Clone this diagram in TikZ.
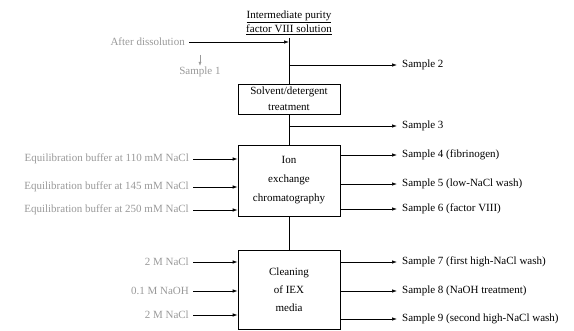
\documentclass[tikz,border=0pt]{standalone}
\usepackage{fontspec}
\setmainfont{Liberation Serif}
\usetikzlibrary{arrows.meta}
\begin{document}
\begin{tikzpicture}[x=1pt,y=-1pt,
  every node/.style={font=\fontsize{11}{13}\selectfont, inner sep=1pt},
  procbox/.style={draw, line width=0.7pt, align=center, inner sep=0pt},
  flow/.style={line width=0.7pt},
  arr/.style={line width=0.7pt, -{Latex[length=5pt,width=3.5pt]}},
  faint/.style={text=black!40},
  samp/.style={anchor=west, inner xsep=5pt},
  inp/.style={anchor=east, faint, inner xsep=4pt}]
\useasboundingbox (0,0) rectangle (574,331);
% title
\node[align=center, font=\fontsize{11}{14}\selectfont] (title) at (289,23) {\underline{Intermediate purity}\\\underline{factor VIII solution}};
\coordinate (top) at (289,38);
% boxes
\node[procbox, minimum width=102pt, minimum height=30pt, font=\fontsize{11}{16}\selectfont] (sd) at (289,99) {Solvent/detergent\\treatment};
\node[procbox, minimum width=102pt, minimum height=71pt, font=\fontsize{11}{19}\selectfont] (iex) at (289,180.5) {Ion\\exchange\\chromatography};
\node[procbox, minimum width=102pt, minimum height=79pt, font=\fontsize{11}{18}\selectfont] (cl) at (289,289.5) {Cleaning\\of IEX\\media};
% main line
\draw[flow] (top) -- (sd.north);
\draw[flow] (sd.south) -- (iex.north);
\draw[flow] (iex.south) -- (cl.north);
% top input
\node[inp] (dis) at (189,42) {After dissolution};
\coordinate (j1) at (289,42);
\draw[arr] (dis.east) -- (j1);
\node[faint] (s1) at (200,72) {Sample 1};
\coordinate (s1a) at (200,55);
\draw[line width=0.4pt, black!40, -{Latex[length=4pt,width=3pt]}] (s1a) -- (s1.north);
% Sample 2 and 3
\coordinate (j2) at (289,65);
\node[samp] (s2) at (397,65) {Sample 2};
\draw[arr] (j2) -- (s2.west);
\coordinate (j3) at (289,126);
\node[samp] (s3) at (397,126) {Sample 3};
\draw[arr] (j3) -- (s3.west);
% IEX outputs
\node[samp] (s4) at (397,155) {Sample 4 (fibrinogen)};
\node[samp] (s5) at (397,184) {Sample 5 (low-NaCl wash)};
\node[samp] (s6) at (397,209) {Sample 6 (factor VIII)};
\draw[arr] (iex.east |- s4) -- (s4.west);
\draw[arr] (iex.east |- s5) -- (s5.west);
\draw[arr] (iex.east |- s6) -- (s6.west);
% IEX inputs
\node[inp] (e1) at (193,159) {Equilibration buffer at 110 mM NaCl};
\node[inp] (e2) at (193,187) {Equilibration buffer at 145 mM NaCl};
\node[inp] (e3) at (193,210) {Equilibration buffer at 250 mM NaCl};
\draw[arr] (e1.east) -- (iex.west |- e1);
\draw[arr] (e2.east) -- (iex.west |- e2);
\draw[arr] (e3.east) -- (iex.west |- e3);
% cleaning outputs
\node[samp] (s7) at (397,262) {Sample 7 (first high-NaCl wash)};
\node[samp] (s8) at (397,291) {Sample 8 (NaOH treatment)};
\node[samp] (s9) at (397,319) {Sample 9 (second high-NaCl wash)};
\draw[arr] (cl.east |- s7) -- (s7.west);
\draw[arr] (cl.east |- s8) -- (s8.west);
\draw[arr] (cl.east |- s9) -- (s9.west);
% cleaning inputs
\node[inp] (c1) at (193,262) {2 M NaCl};
\node[inp] (c2) at (193,291) {0.1 M NaOH};
\node[inp] (c3) at (193,315) {2 M NaCl};
\draw[arr] (c1.east) -- (cl.west |- c1);
\draw[arr] (c2.east) -- (cl.west |- c2);
\draw[arr] (c3.east) -- (cl.west |- c3);
\end{tikzpicture}
\end{document}
